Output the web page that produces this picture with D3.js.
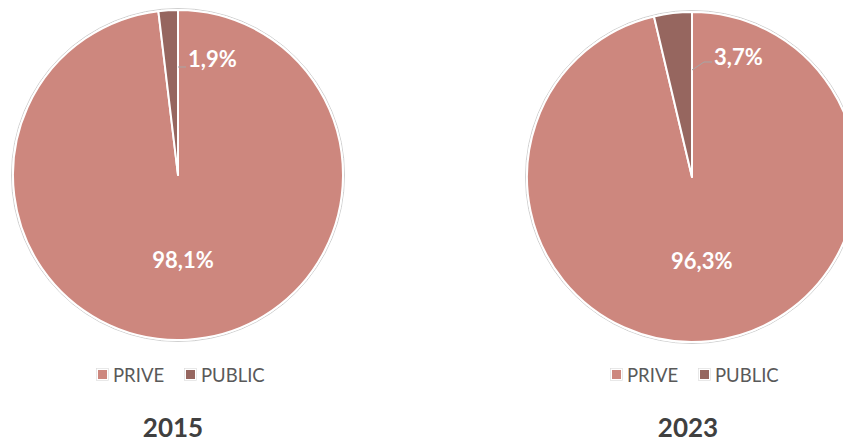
<!DOCTYPE html>
<html>
<head>
<meta charset="utf-8">
<script src="https://cdn.jsdelivr.net/npm/d3@7"></script>
<style>
  html, body { margin: 0; padding: 0; background: #fff; overflow: hidden; }
  svg { display: block; }
</style>
</head>
<body>
<svg id="chart" width="843" height="443"></svg>
<script>
// Sector shares per year (percent)
const categories = ["PRIVE", "PUBLIC"];
const years = ["2015", "2023"];
const values2015 = [98.1, 1.9];
const values2023 = [96.3, 3.7];
const colors = ["#CD877E", "#96665F"];

const svg = d3.select("#chart");
const font = "Lato, 'Open Sans', sans-serif";

const panels = [
  { year: years[0], values: values2015, cx: 178, cy: 175, legendX: 97, titleX: 173, lead: [[178, 67], [186, 67]], labelAt: [188, 58] },
  { year: years[1], values: values2023, cx: 692, cy: 177, legendX: 611, titleX: 688, lead: [[692, 70], [704, 62], [712, 62]], labelAt: [714, 56] }
];

const R = 165;
const pie = d3.pie().sort(null).value(d => d.v);
const arc = d3.arc().innerRadius(0).outerRadius(R);
const fmt = v => d3.format(".1f")(v).replace(".", ",") + "%";

panels.forEach(p => {
  const data = categories.map((c, i) => ({ c, v: p.values[i], color: colors[i] }));
  const g = svg.append("g").attr("transform", `translate(${p.cx},${p.cy})`);

  // faint outer rim
  g.append("circle").attr("r", R + 1.5).attr("fill", "none")
    .attr("stroke", "#cfcfcf").attr("stroke-width", 1);

  const arcs = pie(data);
  g.selectAll("path.slice").data(arcs).join("path")
    .attr("class", "slice")
    .attr("d", arc)
    .attr("fill", d => d.data.color)
    .attr("stroke", "#fff")
    .attr("stroke-width", 2)
    .attr("stroke-linejoin", "round");

  // inside label for the large slice
  const big = arcs[0];
  const mid = (big.startAngle + big.endAngle) / 2;
  const rr = R * 0.51;
  g.append("text")
    .attr("x", Math.sin(mid) * rr)
    .attr("y", -Math.cos(mid) * rr)
    .attr("text-anchor", "middle")
    .attr("dominant-baseline", "central")
    .attr("font-family", font).attr("font-weight", 700).attr("font-size", 22)
    .attr("fill", "#fff")
    .text(fmt(big.data.v));

  // leader line and label for the small slice
  svg.append("path")
    .attr("d", d3.line()(p.lead))
    .attr("fill", "none").attr("stroke", "#a6a6a6").attr("stroke-width", 1);
  svg.append("text")
    .attr("x", p.labelAt[0]).attr("y", p.labelAt[1])
    .attr("dominant-baseline", "central")
    .attr("font-family", font).attr("font-weight", 700).attr("font-size", 22)
    .attr("fill", "#fff")
    .text(fmt(arcs[1].data.v));

  // legend
  const lg = svg.append("g").attr("transform", `translate(${p.legendX},369)`);
  let x = 0;
  categories.forEach((c, i) => {
    lg.append("rect").attr("x", x + 0.5).attr("y", 0.5).attr("width", 10).attr("height", 10)
      .attr("fill", colors[i]).attr("stroke", "#fff").attr("stroke-width", 1);
    lg.append("rect").attr("x", x - 0.5).attr("y", -0.5).attr("width", 12).attr("height", 12)
      .attr("fill", "none").attr("stroke", "#d9d9d9").attr("stroke-width", 0.6);
    lg.append("text").attr("x", x + 16).attr("y", 6)
      .attr("dominant-baseline", "central")
      .attr("font-family", font).attr("font-size", 18.5).attr("fill", "#595959")
      .text(c);
    x += i === 0 ? 88 : 0;
  });

  // year title
  svg.append("text")
    .attr("x", p.titleX).attr("y", 437)
    .attr("text-anchor", "middle")
    .attr("font-family", font).attr("font-weight", 700).attr("font-size", 26)
    .attr("fill", "#404040")
    .text(p.year);
});
</script>
</body>
</html>
